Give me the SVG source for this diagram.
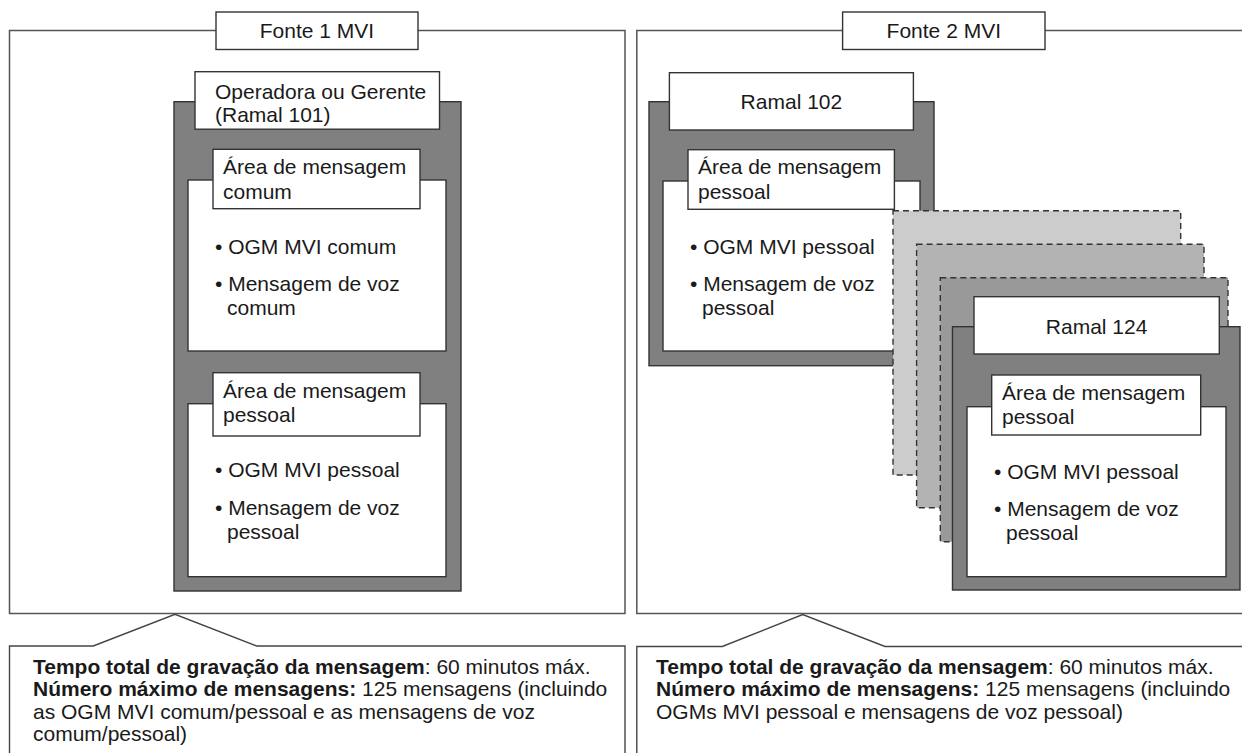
<svg xmlns="http://www.w3.org/2000/svg" width="1242" height="753" viewBox="0 0 1242 753">
<style>
text{font-family:"Liberation Sans",Arial,Helvetica,sans-serif;font-size:21px;fill:#1a1a1a}
.b{font-weight:bold}
.mid{text-anchor:middle}
.frame{fill:none;stroke:#555;stroke-width:1.5}
.wb{fill:#fff;stroke:#333;stroke-width:1.4}
.gray{fill:#808080;stroke:#333;stroke-width:1.4}
.card{stroke:#333;stroke-width:1.4;stroke-dasharray:6 4}
.call{fill:#fff;stroke:#444;stroke-width:1.4}
</style>
<rect width="1242" height="753" fill="#fff"/>

<g id="fonte1">
  <rect class="frame" x="9.5" y="30.5" width="615.5" height="583"/>
  <rect class="wb" x="216" y="12" width="202" height="37.5"/>
  <text class="mid" x="317" y="38">Fonte 1 MVI</text>
</g>

<g id="ramal101">
  <rect class="gray" x="174" y="101.7" width="287" height="489.3"/>
  <rect class="wb" x="195" y="71.7" width="244.5" height="57.5"/>
  <text x="215" y="99">Operadora ou Gerente</text>
  <text x="215" y="122">(Ramal 101)</text>
</g>

<g id="area-comum">
  <rect class="wb" x="188" y="180" width="258" height="171"/>
  <rect class="wb" x="213" y="149.3" width="207" height="59.4"/>
  <text x="223" y="173.5">Área de mensagem</text>
  <text x="223" y="198.5">comum</text>
  <text x="215" y="254">• OGM MVI comum</text>
  <text x="215" y="291">• Mensagem de voz</text>
  <text x="227" y="315">comum</text>
</g>

<g id="area-pessoal-101">
  <rect class="wb" x="188" y="403.7" width="258" height="173"/>
  <rect class="wb" x="213" y="372.7" width="207" height="63.3"/>
  <text x="223" y="397.5">Área de mensagem</text>
  <text x="223" y="422">pessoal</text>
  <text x="215" y="477">• OGM MVI pessoal</text>
  <text x="215" y="515">• Mensagem de voz</text>
  <text x="227" y="539">pessoal</text>
</g>

<g id="fonte2">
  <rect class="frame" x="636.8" y="30.5" width="640" height="583"/>
  <rect class="wb" x="842.6" y="12" width="202.4" height="37.5"/>
  <text class="mid" x="943.8" y="38">Fonte 2 MVI</text>
</g>

<g id="ramal102">
  <rect class="gray" x="649" y="101.7" width="285" height="264"/>
  <rect class="wb" x="669.4" y="72.7" width="244" height="57.3"/>
  <text class="mid" x="791.4" y="108.5">Ramal 102</text>
  <rect class="wb" x="663" y="181" width="257" height="170"/>
  <rect class="wb" x="688" y="149.7" width="206.4" height="59.6"/>
  <text x="698" y="174">Área de mensagem</text>
  <text x="698" y="199">pessoal</text>
  <text x="690" y="254">• OGM MVI pessoal</text>
  <text x="690" y="291">• Mensagem de voz</text>
  <text x="702" y="315">pessoal</text>
</g>

<g id="ramais-intermediarios">
  <rect class="card" fill="#cccccc" x="893" y="210.7" width="287.7" height="264.3"/>
  <rect class="card" fill="#b3b3b3" x="916.6" y="244.3" width="287.4" height="263.4"/>
  <rect class="card" fill="#999999" x="940.3" y="277.7" width="287.7" height="264"/>
</g>

<g id="ramal124">
  <rect class="gray" x="952.5" y="326.7" width="287.5" height="263.3"/>
  <rect class="wb" x="974" y="296.7" width="245.3" height="57.3"/>
  <text class="mid" x="1096.6" y="334">Ramal 124</text>
  <rect class="wb" x="967" y="406.7" width="259" height="170"/>
  <rect class="wb" x="991.7" y="375" width="209" height="60"/>
  <text x="1002" y="400">Área de mensagem</text>
  <text x="1002" y="424">pessoal</text>
  <text x="994" y="478.5">• OGM MVI pessoal</text>
  <text x="994" y="516">• Mensagem de voz</text>
  <text x="1006" y="540">pessoal</text>
</g>

<g id="connectors">
  <path class="call" d="M9.5,760 V646 H93.3 L175,614.3 L256.7,646 H625 V760"/>
  <path class="call" d="M636.8,760 V646.5 H722.3 L802.7,614.5 L885,646.5 H1260"/>
</g>

<g id="nota1">
  <text x="33" y="673.5"><tspan class="b">Tempo total de gravação da mensagem</tspan>: 60 minutos máx.</text>
  <text x="33" y="696"><tspan class="b">Número máximo de mensagens:</tspan> 125 mensagens (incluindo</text>
  <text x="33" y="718.5">as OGM MVI comum/pessoal e as mensagens de voz</text>
  <text x="33" y="741">comum/pessoal)</text>
</g>

<g id="nota2">
  <text x="656" y="673.5"><tspan class="b">Tempo total de gravação da mensagem</tspan>: 60 minutos máx.</text>
  <text x="656" y="696"><tspan class="b">Número máximo de mensagens:</tspan> 125 mensagens (incluindo</text>
  <text x="656" y="718.5">OGMs MVI pessoal e mensagens de voz pessoal)</text>
</g>
</svg>
